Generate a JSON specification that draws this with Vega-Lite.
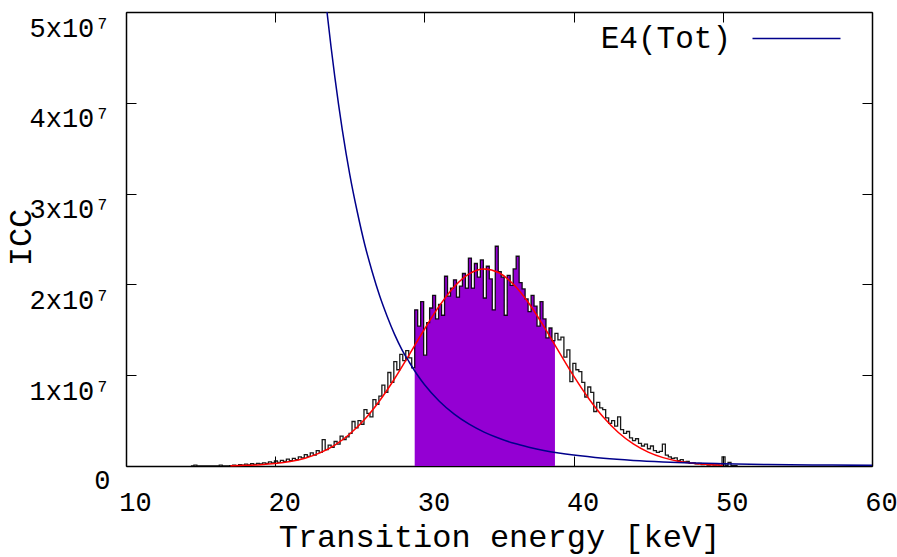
{
  "$schema": "https://vega.github.io/schema/vega-lite/v6.json",
  "width": 746,
  "height": 454,
  "autosize": {"type": "none"},
  "padding": {"left": 126, "top": 12, "right": 25, "bottom": 91},
  "background": "white",
  "config": {
    "view": {"stroke": null},
    "axis": {
      "labelFont": "Liberation Mono", "labelFontSize": 27, "labelColor": "black", "labelFlush": false, "labelOverlap": false,
      "titleFont": "Liberation Mono", "titleFontSize": 32, "titleFontWeight": "normal", "titleColor": "black",
      "grid": false, "domainColor": "black", "domainWidth": 1.5, "tickColor": "black", "tickWidth": 1, "tickSize": -10, "zindex": 1
    }
  },
  "datasets": {
    "hist": [
      {"E":14.35,"ICC":0},{"E":14.55,"ICC":1e5},{"E":14.75,"ICC":0},{"E":16.25,"ICC":1e5},{"E":16.45,"ICC":0},{"E":16.95,"ICC":0.5e5},
      {"E":17.15,"ICC":1e5},{"E":17.35,"ICC":0.5e5},{"E":17.55,"ICC":1.5e5},{"E":17.75,"ICC":1e5},{"E":17.95,"ICC":2e5},
      {"E":18.15,"ICC":1.2e5},{"E":18.35,"ICC":2.5e5},{"E":18.55,"ICC":1.8e5},{"E":18.75,"ICC":3e5},{"E":18.95,"ICC":2.2e5},
      {"E":19.15,"ICC":3.5e5},{"E":19.35,"ICC":2.8e5},{"E":19.55,"ICC":4.5e5},{"E":19.75,"ICC":3.3e5},{"E":19.95,"ICC":5.5e5},
      {"E":20.15,"ICC":4e5},{"E":20.35,"ICC":6.2e5},{"E":20.55,"ICC":5e5},{"E":20.75,"ICC":7.5e5},{"E":20.95,"ICC":6e5},
      {"E":21.15,"ICC":8.5e5},{"E":21.35,"ICC":7e5},{"E":21.55,"ICC":10e5},{"E":21.75,"ICC":9e5},{"E":21.95,"ICC":12.5e5},
      {"E":22.15,"ICC":10.5e5},{"E":22.35,"ICC":14.5e5},{"E":22.55,"ICC":12e5},{"E":22.75,"ICC":17e5},{"E":22.95,"ICC":15e5},
      {"E":23.15,"ICC":29e5},{"E":23.35,"ICC":18e5},{"E":23.55,"ICC":23e5},{"E":23.75,"ICC":20.5e5},{"E":23.95,"ICC":27e5},
      {"E":24.15,"ICC":24e5},{"E":24.35,"ICC":33e5},{"E":24.55,"ICC":29e5},{"E":24.75,"ICC":32e5},{"E":24.95,"ICC":36e5},
      {"E":25.15,"ICC":49e5},{"E":25.35,"ICC":42e5},{"E":25.55,"ICC":50e5},{"E":25.75,"ICC":46e5},{"E":25.95,"ICC":62e5},
      {"E":26.15,"ICC":58e5},{"E":26.35,"ICC":54e5},{"E":26.55,"ICC":73e5},{"E":26.75,"ICC":68e5},{"E":26.95,"ICC":77e5},
      {"E":27.15,"ICC":89e5},{"E":27.35,"ICC":81e5},{"E":27.55,"ICC":103e5},{"E":27.75,"ICC":92e5},{"E":27.95,"ICC":115e5},
      {"E":28.15,"ICC":106e5},{"E":28.35,"ICC":123e5},{"E":28.55,"ICC":116e5},{"E":28.75,"ICC":127e5},{"E":28.95,"ICC":119e5},
      {"E":29.15,"ICC":108e5},{"E":29.35,"ICC":172e5},{"E":29.55,"ICC":154e5},{"E":29.75,"ICC":181e5},{"E":29.95,"ICC":122e5},
      {"E":30.15,"ICC":158e5},{"E":30.35,"ICC":174e5},{"E":30.55,"ICC":188e5},{"E":30.75,"ICC":162e5},{"E":30.95,"ICC":178e5},
      {"E":31.15,"ICC":166e5},{"E":31.35,"ICC":209e5},{"E":31.55,"ICC":187e5},{"E":31.75,"ICC":196e5},{"E":31.95,"ICC":205e5},
      {"E":32.15,"ICC":186e5},{"E":32.35,"ICC":198e5},{"E":32.55,"ICC":212e5},{"E":32.75,"ICC":196e5},{"E":32.95,"ICC":229e5},
      {"E":33.15,"ICC":196e5},{"E":33.35,"ICC":223e5},{"E":33.55,"ICC":208e5},{"E":33.75,"ICC":227e5},{"E":33.95,"ICC":185e5},
      {"E":34.15,"ICC":220e5},{"E":34.35,"ICC":206e5},{"E":34.55,"ICC":172e5},{"E":34.75,"ICC":242e5},{"E":34.95,"ICC":214e5},
      {"E":35.15,"ICC":208e5},{"E":35.35,"ICC":166e5},{"E":35.55,"ICC":210e5},{"E":35.75,"ICC":199e5},{"E":35.95,"ICC":217e5},
      {"E":36.15,"ICC":231e5},{"E":36.35,"ICC":202e5},{"E":36.55,"ICC":195e5},{"E":36.75,"ICC":184e5},{"E":36.95,"ICC":170e5},
      {"E":37.15,"ICC":188e5},{"E":37.35,"ICC":176e5},{"E":37.55,"ICC":154e5},{"E":37.75,"ICC":181e5},{"E":37.95,"ICC":162e5},
      {"E":38.15,"ICC":141e5},{"E":38.35,"ICC":152e5},{"E":38.55,"ICC":138e5},{"E":38.75,"ICC":146e5},{"E":38.95,"ICC":139e5},
      {"E":39.15,"ICC":142e5},{"E":39.35,"ICC":120e5},{"E":39.55,"ICC":128e5},{"E":39.75,"ICC":93e5},{"E":39.95,"ICC":113e5},
      {"E":40.15,"ICC":106e5},{"E":40.35,"ICC":104e5},{"E":40.55,"ICC":92e5},{"E":40.75,"ICC":76e5},{"E":40.95,"ICC":87e5},
      {"E":41.15,"ICC":81e5},{"E":41.35,"ICC":60e5},{"E":41.55,"ICC":70e5},{"E":41.75,"ICC":64e5},{"E":41.95,"ICC":62e5},
      {"E":42.15,"ICC":53e5},{"E":42.35,"ICC":47e5},{"E":42.55,"ICC":50e5},{"E":42.75,"ICC":44e5},{"E":42.95,"ICC":54e5},
      {"E":43.15,"ICC":40e5},{"E":43.35,"ICC":36e5},{"E":43.55,"ICC":38e5},{"E":43.75,"ICC":31e5},{"E":43.95,"ICC":28e5},
      {"E":44.15,"ICC":30e5},{"E":44.35,"ICC":25e5},{"E":44.55,"ICC":22e5},{"E":44.75,"ICC":24e5},{"E":44.95,"ICC":19e5},
      {"E":45.15,"ICC":22e5},{"E":45.35,"ICC":17e5},{"E":45.55,"ICC":15e5},{"E":45.75,"ICC":16e5},{"E":45.95,"ICC":24e5},
      {"E":46.15,"ICC":12e5},{"E":46.35,"ICC":10e5},{"E":46.55,"ICC":8.5e5},{"E":46.75,"ICC":9e5},{"E":46.95,"ICC":6e5},
      {"E":47.15,"ICC":7e5},{"E":47.35,"ICC":4.5e5},{"E":47.55,"ICC":5e5},{"E":47.75,"ICC":3e5},{"E":47.95,"ICC":3.5e5},
      {"E":48.15,"ICC":2.5e5},{"E":48.35,"ICC":3e5},{"E":48.55,"ICC":1.5e5},{"E":48.75,"ICC":2e5},{"E":48.95,"ICC":1e5},
      {"E":49.15,"ICC":1.5e5},{"E":49.35,"ICC":1e5},{"E":49.55,"ICC":1.2e5},{"E":49.75,"ICC":0.5e5},{"E":49.95,"ICC":10e5},
      {"E":50.15,"ICC":0.8e5},{"E":50.35,"ICC":4e5},{"E":50.55,"ICC":0.5e5},{"E":50.75,"ICC":0.5e5},{"E":50.95,"ICC":0}
    ],
    "fit": [
      {"E":17,"ICC":0.34e5},{"E":18,"ICC":0.71e5},{"E":19,"ICC":1.42e5},{"E":20,"ICC":2.71e5},{"E":21,"ICC":4.95e5},
      {"E":22,"ICC":8.63e5},{"E":23,"ICC":14.4e5},{"E":24,"ICC":23.0e5},{"E":25,"ICC":35.2e5},{"E":26,"ICC":51.4e5},
      {"E":27,"ICC":71.9e5},{"E":28,"ICC":96.1e5},{"E":29,"ICC":123e5},{"E":30,"ICC":150.6e5},{"E":31,"ICC":176.3e5},
      {"E":32,"ICC":197.5e5},{"E":33,"ICC":211.7e5},{"E":34,"ICC":217e5},{"E":35,"ICC":212.8e5},{"E":36,"ICC":199.6e5},
      {"E":37,"ICC":179.2e5},{"E":38,"ICC":153.8e5},{"E":39,"ICC":126.3e5},{"E":40,"ICC":99.2e5},{"E":41,"ICC":74.6e5},
      {"E":42,"ICC":53.6e5},{"E":43,"ICC":36.9e5},{"E":44,"ICC":24.3e5},{"E":45,"ICC":15.3e5},{"E":46,"ICC":9.2e5},
      {"E":47,"ICC":5.3e5},{"E":48,"ICC":2.92e5},{"E":49,"ICC":1.54e5},{"E":50,"ICC":0.78e5}
    ],
    "e4": [
      {"E":23,"ICC":576e5},{"E":23.5,"ICC":496e5},{"E":24,"ICC":428e5},{"E":24.5,"ICC":370e5},{"E":25,"ICC":321e5},
      {"E":25.5,"ICC":280e5},{"E":26,"ICC":244e5},{"E":26.5,"ICC":214e5},{"E":27,"ICC":187.5e5},{"E":27.5,"ICC":165e5},
      {"E":28,"ICC":145e5},{"E":28.5,"ICC":128e5},{"E":29,"ICC":114e5},{"E":29.5,"ICC":101e5},{"E":30,"ICC":89.7e5},
      {"E":31,"ICC":71.3e5},{"E":32,"ICC":57.1e5},{"E":33,"ICC":46.0e5},{"E":34,"ICC":37.3e5},{"E":35,"ICC":30.5e5},
      {"E":36,"ICC":25.0e5},{"E":37,"ICC":20.7e5},{"E":38,"ICC":17.1e5},{"E":39,"ICC":14.3e5},{"E":40,"ICC":12.0e5},
      {"E":42,"ICC":8.51e5},{"E":44,"ICC":6.14e5},{"E":46,"ICC":4.50e5},{"E":48,"ICC":3.34e5},{"E":50,"ICC":2.51e5},
      {"E":53,"ICC":1.67e5},{"E":56,"ICC":1.14e5},{"E":60,"ICC":0.70e5}
    ]
  },
  "encoding": {
    "x": {"field": "E", "type": "quantitative", "scale": {"domain": [10, 60]}},
    "y": {"field": "ICC", "type": "quantitative", "scale": {"domain": [0, 50000000]}}
  },
  "layer": [
    {
      "data": {"name": "hist"},
      "transform": [{"filter": "datum.E >= 29.35 && datum.E <= 38.75"}],
      "mark": {"type": "area", "interpolate": "step-after", "color": "#9400d3", "opacity": 1},
      "encoding": {
        "x": {"field": "E", "type": "quantitative", "axis": {"orient": "bottom", "values": [10, 20, 30, 40, 50, 60], "title": "Transition energy [keV]", "labelOffset": 9, "labelPadding": 54, "labelBaseline": "alphabetic", "titleBaseline": "alphabetic", "titleY": 80}},
        "y": {"field": "ICC", "type": "quantitative", "axis": {"orient": "left", "values": [0, 10000000, 20000000, 30000000, 40000000, 50000000], "labelExpr": "datum.value == 0 ? '0' : (datum.value / 10000000) + 'x10⁷'", "labelPadding": 26, "labelBaseline": "alphabetic", "labelOffset": {"condition": {"test": "datum.value == 0", "value": 22}, "value": 24}, "title": "ICC", "titleX": -106, "titleY": 225, "titleAngle": -90, "titleBaseline": "middle", "titleAlign": "center"}}
      }
    },
    {
      "data": {"name": "hist"},
      "mark": {"type": "line", "interpolate": "step-after", "color": "black", "strokeWidth": 1.3, "opacity": 0.9},
      "encoding": {
        "x": {"field": "E", "type": "quantitative", "axis": {"orient": "top", "values": [10, 20, 30, 40, 50, 60], "labels": false, "title": null}},
        "y": {"field": "ICC", "type": "quantitative", "axis": {"orient": "right", "values": [0, 10000000, 20000000, 30000000, 40000000, 50000000], "labels": false, "title": null}}
      }
    },
    {
      "data": {"name": "fit"},
      "mark": {"type": "line", "interpolate": "monotone", "color": "#ff0000", "strokeWidth": 1.5},
      "encoding": {
        "x": {"field": "E", "type": "quantitative", "axis": null},
        "y": {"field": "ICC", "type": "quantitative", "axis": null}
      }
    },
    {
      "data": {"name": "e4"},
      "mark": {"type": "line", "interpolate": "monotone", "strokeWidth": 1.5, "clip": true},
      "encoding": {
        "x": {"field": "E", "type": "quantitative", "axis": null},
        "y": {"field": "ICC", "type": "quantitative", "axis": null},
        "color": {"datum": "E4(Tot)", "type": "nominal", "scale": {"range": ["#00008b"]},
          "legend": {"orient": "none", "legendX": 583, "legendY": 11, "title": null, "padding": 0,
            "symbolType": "M28,0L116,0", "symbolSize": 4, "symbolStrokeWidth": 1.5,
            "labelAlign": "right", "labelOffset": -9, "labelFont": "Liberation Mono", "labelFontSize": 31, "labelColor": "black", "labelLimit": 0}}
      }
    }
  ],
  "resolve": {"axis": {"x": "independent", "y": "independent"}}
}
